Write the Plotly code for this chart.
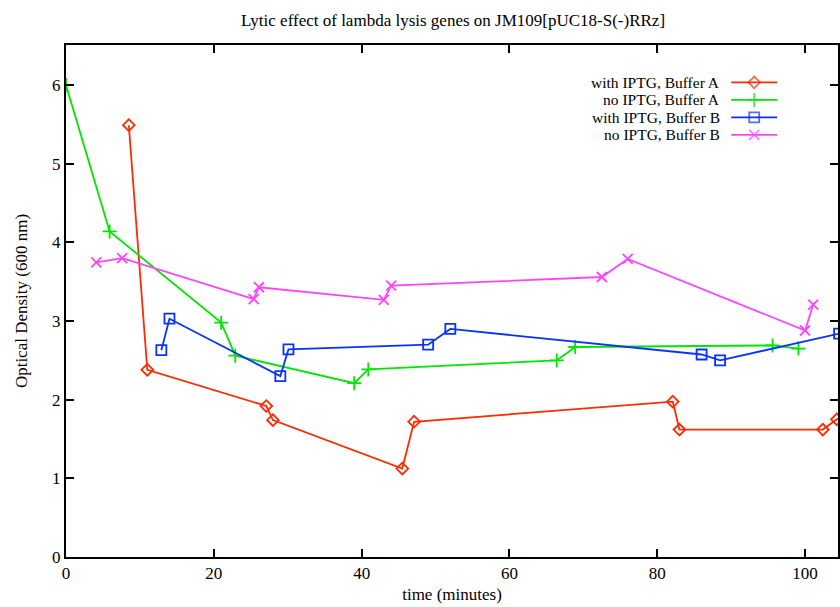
import plotly.graph_objects as go

# ---- data ----
series_names = ["with IPTG, Buffer A", "no IPTG, Buffer A", "with IPTG, Buffer B", "no IPTG, Buffer B"]

t_ipa = [8.5, 11.0, 27.1, 28.0, 45.5, 47.1, 82.1, 83.0, 102.4, 104.3, 106.5]
od_ipa = [5.49, 2.38, 1.92, 1.74, 1.125, 1.72, 1.975, 1.62, 1.62, 1.75, 1.87]

t_noa = [0.0, 5.9, 21.0, 22.9, 39.0, 40.9, 66.4, 68.9, 95.6, 99.1]
od_noa = [6.0, 4.14, 2.98, 2.56, 2.21, 2.385, 2.50, 2.67, 2.69, 2.65]

t_ipb = [12.9, 14.0, 29.0, 30.1, 49.0, 52.0, 86.0, 88.5, 104.6]
od_ipb = [2.63, 3.03, 2.30, 2.64, 2.70, 2.90, 2.575, 2.50, 2.84]

t_nob = [4.1, 7.6, 25.4, 26.1, 43.0, 44.0, 72.5, 76.0, 100.0, 101.1]
od_nob = [3.745, 3.80, 3.28, 3.43, 3.27, 3.45, 3.56, 3.79, 2.88, 3.21]

x_ticks = [0, 20, 40, 60, 80, 100]
y_ticks = [0, 1, 2, 3, 4, 5, 6]

colors = ["#ff2a00", "#00e600", "#0a32ff", "#ff44ff"]
symbols = ["diamond-open", "cross-thin-open", "square-open", "x-thin-open"]
msizes = [9, 10, 10, 10]

FONT = "Liberation Serif, Times New Roman, serif"
FS = 17
KEY_FS = 15.5

fig = go.Figure()
data = [(t_ipa, od_ipa), (t_noa, od_noa), (t_ipb, od_ipb), (t_nob, od_nob)]
for i, (tx, ty) in enumerate(data):
    fig.add_trace(go.Scatter(
        x=tx, y=ty, mode="lines+markers", name=series_names[i],
        line=dict(color=colors[i], width=1.8),
        marker=dict(symbol=symbols[i], size=msizes[i], color=colors[i],
                    line=dict(width=1.8, color=colors[i])),
        showlegend=False))

# ---- custom gnuplot-style key (pixel-unit overlay axes) ----
row_y = [82.5, 100, 117.5, 135]
for i in range(4):
    fig.add_trace(go.Scatter(
        x=[733, 756, 779], y=[row_y[i]] * 3, xaxis="x2", yaxis="y2",
        mode="lines+markers",
        line=dict(color=colors[i], width=1.8),
        marker=dict(symbol=symbols[i], size=[0, msizes[i], 0], color=colors[i],
                    line=dict(width=1.8, color=colors[i])),
        showlegend=False, hoverinfo="skip"))
    fig.add_annotation(x=723, y=row_y[i], xref="x2", yref="y2", text=series_names[i],
                       showarrow=False, xanchor="right", yanchor="middle",
                       borderpad=0,
                       font=dict(family=FONT, size=KEY_FS, color="black"))

fig.update_layout(
    width=840, height=607,
    margin=dict(l=66, r=0, t=45, b=49.5),
    paper_bgcolor="white", plot_bgcolor="white",
    font=dict(family=FONT, size=FS, color="black"),
    title=dict(text="Lytic effect of lambda lysis genes on JM109[pUC18-S(-)RRz]",
               x=453 / 840, xanchor="center", y=1 - 20 / 607, yanchor="middle",
               font=dict(family=FONT, size=FS)),
    xaxis=dict(range=[0, 774 / 7.41], tickvals=x_ticks, ticks="inside", ticklen=8,
               tickwidth=1.5, tickcolor="black", showline=True, linecolor="black",
               linewidth=2, mirror="ticks", showgrid=False, zeroline=False,
               title=dict(text="time (minutes)", standoff=6, font=dict(family=FONT, size=FS)),
               tickfont=dict(family=FONT, size=FS)),
    yaxis=dict(range=[0, 6.51], tickvals=y_ticks, ticks="inside", ticklen=8,
               tickwidth=1.5, tickcolor="black", showline=True, linecolor="black",
               linewidth=2, mirror="ticks", showgrid=False, zeroline=False,
               title=dict(text="Optical Density (600 nm)", standoff=20,
                          font=dict(family=FONT, size=FS)),
               tickfont=dict(family=FONT, size=FS)),
    xaxis2=dict(range=[66, 840], overlaying="x", visible=False, fixedrange=True),
    yaxis2=dict(range=[557.5, 45], overlaying="y", visible=False, fixedrange=True),
)

fig.write_html("out.html")
